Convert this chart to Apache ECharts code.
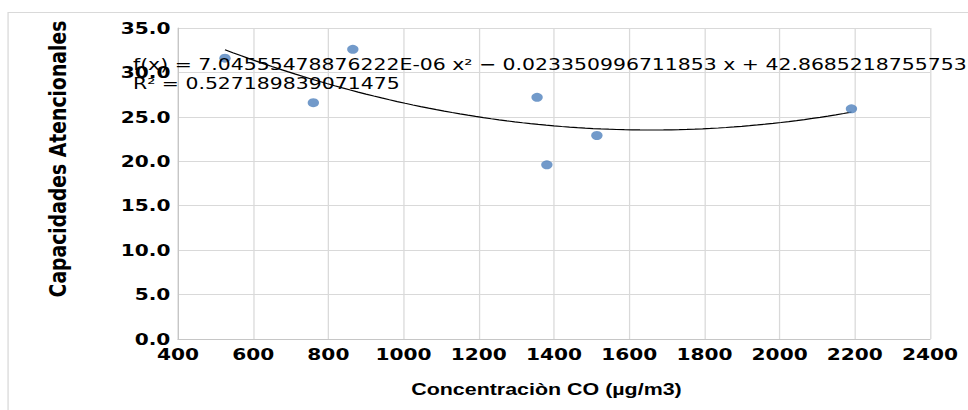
<!DOCTYPE html>
<html>
<head>
<meta charset="utf-8">
<script src="https://cdn.jsdelivr.net/npm/echarts@6/dist/echarts.min.js"></script>
<style>
  html, body { margin: 0; padding: 0; background: #ffffff; overflow: hidden; }
  #wrap { width: 968px; height: 410px; overflow: hidden; }
  /* the chart is laid out narrower and widened, so text and markers come out stretched */
  #chart { width: 768px; height: 410px; transform: scaleX(1.2604); transform-origin: 0 0; }
</style>
</head>
<body>
<div id="wrap"><div id="chart"></div></div>
<script>
// CO concentration (µg/m3) and attention-capacity scores
const coConc = [525, 760, 865, 1355, 1381, 1514, 2191];
const capacidades = [31.6, 26.6, 32.6, 27.2, 19.6, 22.9, 25.9];

// quadratic trend: a·x² + b·x + c
const trendCoef = [7.04555478876222E-06, -0.023350996711853, 42.8685218755753];
const trendText = 'f(x) = 7.04555478876222E-06 x² − 0.023350996711853 x + 42.8685218755753';
const r2Text = 'R² = 0.527189839071475';

const xTitle = 'Concentraciòn CO (µg/m3)';
const yTitle = 'Capacidades Atencionales';

const points = coConc.map((x, i) => [x, capacidades[i]]);

// sample the trend polynomial across the data range
const xLo = Math.min(...coConc), xHi = Math.max(...coConc);
const trendPts = [];
for (let i = 0; i <= 80; i++) {
  const x = xLo + (xHi - xLo) * i / 80;
  trendPts.push([x, trendCoef[0] * x * x + trendCoef[1] * x + trendCoef[2]]);
}

const chart = echarts.init(document.getElementById('chart'), null, { renderer: 'svg' });
chart.setOption({
  backgroundColor: '#ffffff',
  animation: false,
  grid: { left: 141.2, right: 30.1, top: 28, bottom: 71 },
  xAxis: {
    type: 'value', min: 400, max: 2400, interval: 200,
    name: xTitle, nameLocation: 'middle', nameGap: 41,
    nameTextStyle: { fontFamily: 'Liberation Sans', fontWeight: 'bold', fontSize: 17, color: '#000', padding: [0, 12, 0, 0] },
    axisLine: { show: true, lineStyle: { color: '#c6c6c6', width: 1 } },
    axisTick: { show: false },
    axisLabel: {
      margin: 7, fontFamily: 'DejaVu Sans', fontWeight: 'bold', fontSize: 16, color: '#000',
      formatter: v => String(v)
    },
    splitLine: { show: true, lineStyle: { color: '#d9d9d9', width: 1 } }
  },
  yAxis: {
    type: 'value', min: 0, max: 35, interval: 5,
    axisLine: { show: true, lineStyle: { color: '#c6c6c6', width: 1 } },
    axisTick: { show: false },
    axisLabel: {
      margin: 6, fontFamily: 'DejaVu Sans', fontWeight: 'bold', fontSize: 16, color: '#000',
      formatter: v => v.toFixed(1)
    },
    splitLine: { show: true, lineStyle: { color: '#d9d9d9', width: 1 } }
  },
  graphic: [
    {
      type: 'rect', silent: true, z: -10,
      shape: { x: 6.4, y: 12.5, width: 900, height: 600 },
      style: { fill: 'none', stroke: '#d9d9d9', lineWidth: 1 }
    },
    {
      type: 'text', silent: true, z: 100,
      x: 46, y: 159, rotation: Math.PI / 2,
      style: {
        text: yTitle, fill: '#000', fontFamily: 'DejaVu Sans', fontWeight: 'bold', fontSize: 18.8,
        align: 'center', verticalAlign: 'middle'
      }
    },
    {
      type: 'text', silent: true, z: 100,
      x: 105.5, y: 55.3,
      style: {
        text: trendText + '\n' + r2Text, fill: '#000', fontFamily: 'DejaVu Sans', fontSize: 16.2,
        lineHeight: 18.5, align: 'left', verticalAlign: 'top'
      }
    }
  ],
  series: [
    {
      type: 'line', data: trendPts, showSymbol: false, smooth: false, z: 3,
      lineStyle: { color: '#000', width: 1.2 }
    },
    {
      type: 'scatter', data: points, symbol: 'circle', symbolSize: 9, z: 4,
      itemStyle: { color: '#4f81bd' }
    }
  ]
});
</script>
</body>
</html>
